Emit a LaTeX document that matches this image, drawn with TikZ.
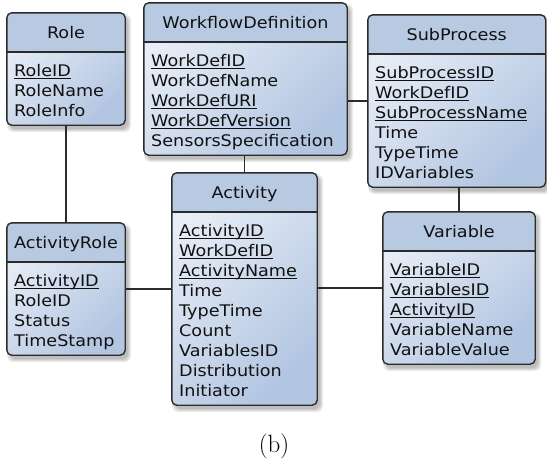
\documentclass[tikz,border=0pt]{standalone}
\usepackage{fontspec}
\newfontfamily\erfont[FakeStretch=1.1]{DejaVu Sans}
\usetikzlibrary{fit}

\definecolor{hdrfill}{HTML}{B8C9E2}
\definecolor{bodylight}{HTML}{E8EEF7}
\definecolor{bodydark}{HTML}{B2C5E1}
\definecolor{edge}{HTML}{2B2B2B}
\definecolor{ink}{HTML}{111111}

% key attribute: text with an underline just below the baseline
\newsavebox\keybox
\newcommand\keyattr[1]{\sbox\keybox{#1}\rlap{\rule[-2.6pt]{\wd\keybox}{1.1pt}}\usebox\keybox}

\tikzset{
  entbody/.style={inner sep=0pt, draw=none, top color=bodylight, bottom color=bodydark, shading angle=45},
  entedge/.style={draw=edge, line width=1.4pt, rounded corners=5pt},
  enttext/.style={inner sep=0pt, text=ink, font=\erfont\fontsize{16}{20}\selectfont},
  link/.style={draw=edge, line width=1.4pt},
}

% \entity{name}{left}{top}{right}{rows}{title}{attributes}
\newcommand\entity[7]{%
  \pgfmathsetmacro\eBottom{#3+72+20*(#5-1)}%
  \pgfmathsetmacro\eHead{#3+39}%
  \foreach \g in {0,1,2,3}
    \fill[black, opacity=0.07, rounded corners=6pt]
      (#2+3-\g, #3+4-\g) rectangle (#4+3+\g, \eBottom+4+\g);
  \node[entbody, rounded corners=5pt, fit={(#2,#3) (#4,\eBottom)}, name=#1] {};
  \begin{scope}
    \clip[rounded corners=5pt] (#2,#3) rectangle (#4,\eBottom);
    \fill[hdrfill] (#2,#3) rectangle (#4,\eHead);
  \end{scope}
  \draw[link] (#2,\eHead) -- (#4,\eHead);
  \draw[entedge] (#1.north west) rectangle (#1.south east);
  \node[enttext, anchor=base, name=#1-t] at ({(#2+#4)/2}, #3+25) {#6};
  \foreach \r [count=\i from 0] in {#7}
    \node[enttext, anchor=base west, name=#1-r\i] at (#2+7, \eHead+24+20*\i) {\r};
}

\begin{document}
\begin{tikzpicture}[x=1pt, y=-1pt]
\useasboundingbox (0,0) rectangle (547,461);

% entities
\entity{role}{7}{13}{125}{3}{Role}{\keyattr{RoleID}, RoleName, RoleInfo}
\entity{wd}{144}{3}{347}{5}{WorkflowDefinition}{\keyattr{WorkDefID}, WorkDefName, \keyattr{WorkDefURI}, \keyattr{WorkDefVersion}, SensorsSpecification}
\entity{sp}{368}{15}{545.5}{6}{SubProcess}{\keyattr{SubProcessID}, \keyattr{WorkDefID}, \keyattr{SubProcessName}, Time, TypeTime, IDVariables}
\entity{ar}{7}{223}{125}{4}{ActivityRole}{\keyattr{ActivityID}, RoleID, Status, TimeStamp}
\entity{act}{172}{173}{317}{9}{Activity}{\keyattr{ActivityID}, \keyattr{WorkDefID}, \keyattr{ActivityName}, Time, TypeTime, Count, VariablesID, Distribution, Initiator}
\entity{var}{383}{212}{535}{5}{Variable}{\keyattr{VariableID}, \keyattr{VariablesID}, \keyattr{ActivityID}, VariableName, VariableValue}

% relationships
\draw[link] (role.south) -- (ar.north);
\draw[link] (wd.east |- sp.west) -- (sp.west);
\draw[link] (act.north |- wd.south) -- (act.north);
\draw[link] (var.north |- sp.south) -- (var.north);
\draw[link] (ar.east) -- (ar.east -| act.west);
\draw[link] (var.west -| act.east) -- (var.west);

\node[anchor=base, inner sep=0pt, font=\fontsize{25}{30}\selectfont, name=caption] at (274,452) {(b)};
\end{tikzpicture}
\end{document}
